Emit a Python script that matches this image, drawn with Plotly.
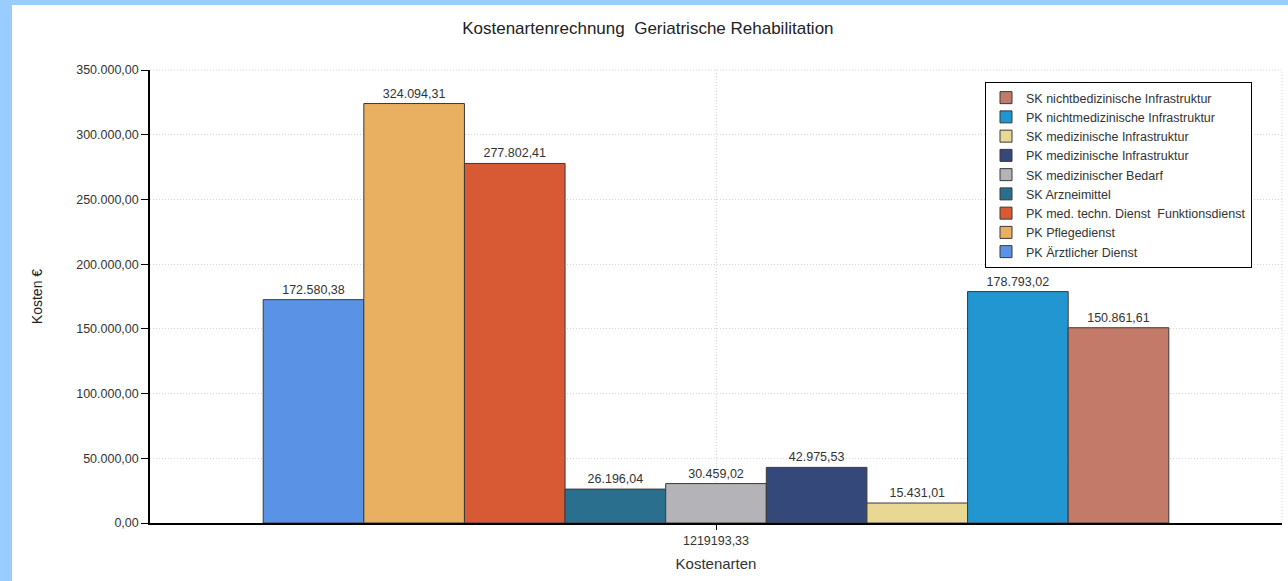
import plotly.graph_objects as go

category = ["1219193,33"]
series_names = [
    "PK Ärztlicher Dienst",
    "PK Pflegedienst",
    "PK med. techn. Dienst  Funktionsdienst",
    "SK Arzneimittel",
    "SK medizinischer Bedarf",
    "PK medizinische Infrastruktur",
    "SK medizinische Infrastruktur",
    "PK nichtmedizinische Infrastruktur",
    "SK nichtbedizinische Infrastruktur",
]
series_values = [
    172580.38,
    324094.31,
    277802.41,
    26196.04,
    30459.02,
    42975.53,
    15431.01,
    178793.02,
    150861.61,
]
series_colors = [
    "#5a92e6",
    "#e8b060",
    "#d85a34",
    "#2a6f8e",
    "#b4b4b8",
    "#34497a",
    "#e8d894",
    "#2196d0",
    "#c47a68",
]
y_ticks = [0, 50000, 100000, 150000, 200000, 250000, 300000, 350000]

fig = go.Figure()
for name, val, col in zip(series_names, series_values, series_colors):
    fig.add_trace(go.Bar(
        x=category, y=[val], name=name,
        marker=dict(color=col, line=dict(color="#3a3a3a", width=1)),
        texttemplate="%{y:,.2f}", textposition="outside",
        textfont=dict(size=12.5, color="#333333", family="Liberation Sans"),
        cliponaxis=False,
    ))

fig.update_layout(
    width=1288, height=581,
    separators=",.",
    barmode="group", bargap=0.2, bargroupgap=0,
    paper_bgcolor="white", plot_bgcolor="white",
    margin=dict(l=150, r=6, t=70, b=58),
    font=dict(family="Liberation Sans", color="#333333"),
    title=dict(text="Kostenartenrechnung  Geriatrische Rehabilitation",
               x=0.503, xanchor="center", y=0.952, yanchor="middle",
               font=dict(size=17, color="#222222")),
    showlegend=True,
    legend=dict(
        x=0.9735, xanchor="right", y=0.9735, yanchor="top",
        traceorder="reversed",
        bgcolor="white", bordercolor="black", borderwidth=1,
        font=dict(size=12.5, color="#333333", family="Liberation Sans"),
        itemwidth=30, tracegroupgap=0,
    ),
    xaxis=dict(
        title=dict(text="Kostenarten", font=dict(size=15, color="#333333"), standoff=12),
        showline=True, linecolor="black", linewidth=1.5,
        ticks="outside", ticklen=5, tickcolor="black",
        showgrid=True, gridcolor="#d4d4d4", griddash="1px,2px",
        tickfont=dict(size=12.5, color="#333333"),
    ),
    yaxis=dict(
        title=dict(text="Kosten €", font=dict(size=14, color="#222222"), standoff=30),
        range=[0, 350000], tickvals=y_ticks, tickformat=",.2f",
        showline=True, linecolor="black", linewidth=1.5,
        ticks="outside", ticklen=7, tickcolor="black",
        showgrid=True, gridcolor="#d4d4d4", griddash="1px,2px",
        tickfont=dict(size=12.5, color="#333333"),
        zeroline=False,
    ),
    shapes=[
        dict(type="rect", xref="paper", yref="paper",
             x0=-0.1325, x1=-0.1219, y0=-0.13, y1=1.1545,
             fillcolor="#99ccff", line=dict(width=0), layer="below"),
        dict(type="rect", xref="paper", yref="paper",
             x0=-0.1325, x1=1.006, y0=1.1435, y1=1.1545,
             fillcolor="#99ccff", line=dict(width=0), layer="below"),
        dict(type="line", xref="paper", yref="paper",
             x0=1.0, x1=1.0, y0=0, y1=1,
             line=dict(color="#d4d4d4", width=1, dash="1px,2px")),
        dict(type="line", xref="paper", yref="paper",
             x0=0, x1=1.0, y0=1, y1=1,
             line=dict(color="#d4d4d4", width=1, dash="1px,2px")),
    ],
)

fig.write_html("out.html",
               config={"displayModeBar": False},
               post_script="document.body.style.margin='0';document.body.style.overflow='hidden';")
